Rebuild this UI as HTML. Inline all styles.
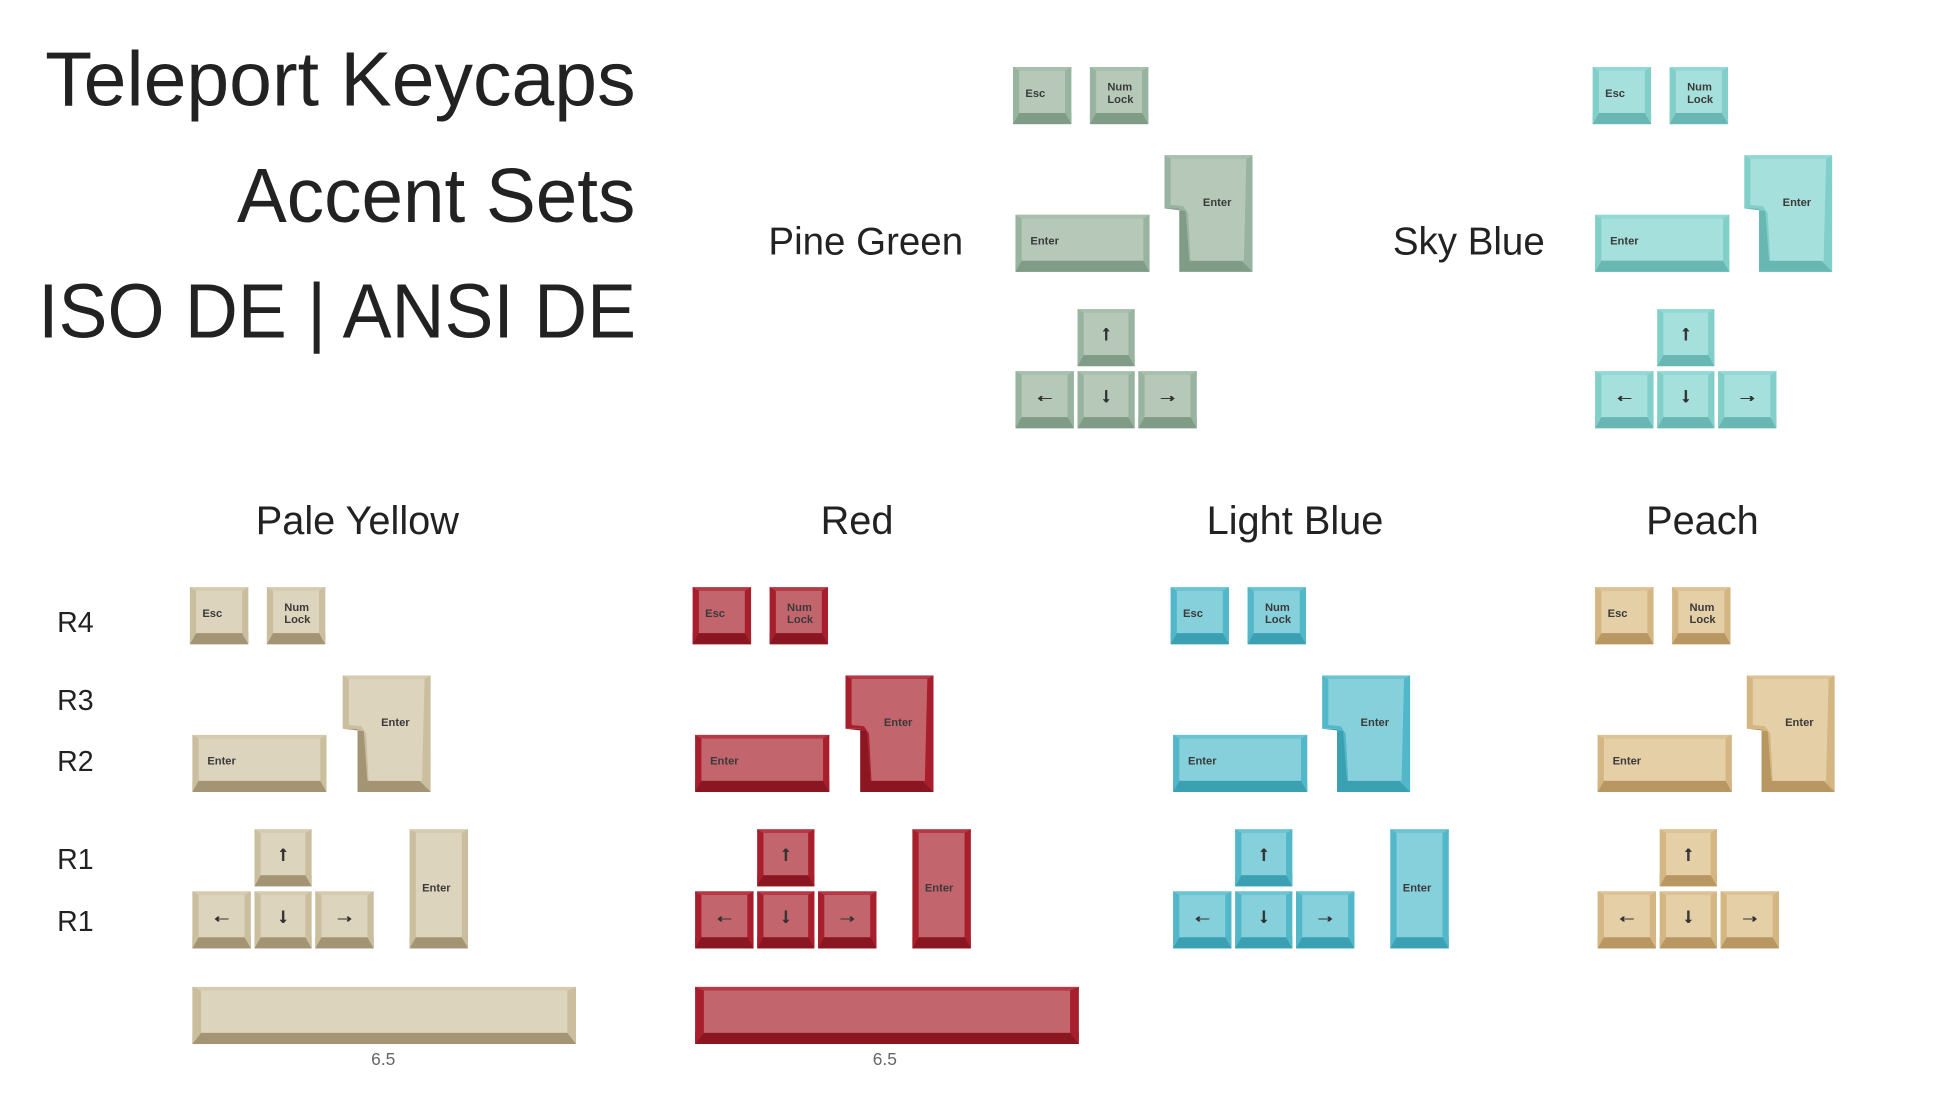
<!DOCTYPE html>
<html><head><meta charset="utf-8"><style>
html,body{margin:0;padding:0;background:#fff;width:1946px;height:1095px;overflow:hidden}
#w{position:absolute;left:0;top:0;width:1560px;height:878px;transform:scale(1.2414,1.2414);transform-origin:0 0;font-family:"Liberation Sans",sans-serif}
.t{position:absolute;color:#222;white-space:nowrap;font-weight:300}
.set{position:absolute}
.k{position:absolute;box-sizing:border-box;border-style:solid;border-width:3px 5px 9px 5px;border-color:var(--s2) var(--s) var(--b) var(--s);background:var(--t);font-weight:bold;font-size:9px;color:#3a3a3a;line-height:10px}
.k span{position:absolute}
.a{font-size:17px;text-align:center;width:100%;top:8px;left:0;line-height:18px;font-weight:bold;text-shadow:0.6px 0 0 #333,-0.6px 0 0 #333;color:#333}
.iso{position:absolute}
.py{--t:#ddd4be;--s:#cbbe9f;--s2:#d6cbb1;--b:#a39574}
.rd{--t:#c3656d;--s:#a81e2c;--s2:#b53a46;--b:#8a1621}
.lb{--t:#86d0dc;--s:#52b7c9;--s2:#6cc3d2;--b:#3ca0b3}
.pc{--t:#e4cfa7;--s:#d4b683;--s2:#dcc295;--b:#b89762}
.pg{--t:#b6c9b9;--s:#98b39f;--s2:#a7bfac;--b:#809c87}
.sb{--t:#a6e0dc;--s:#82cfca;--s2:#93d8d3;--b:#68b7b2}
</style></head><body><div id="w">
<div class="t" style="right:1048px;top:29px;font-size:62px">Teleport Keycaps</div>
<div class="t" style="right:1048px;top:123px;font-size:62px;transform:scaleX(0.97);transform-origin:right">Accent Sets</div>
<div class="t" style="right:1048px;top:216px;font-size:62px;transform:scaleX(0.953);transform-origin:right">ISO DE | ANSI DE</div>
<div class="t" style="left:619px;top:177px;font-size:31px">Pine Green</div>
<div class="t" style="left:1122px;top:177px;font-size:31px">Sky Blue</div>
<div class="t" style="left:206px;top:401px;font-size:32px">Pale Yellow</div>
<div class="t" style="left:661px;top:401px;font-size:32px">Red</div>
<div class="t" style="left:972px;top:401px;font-size:32px">Light Blue</div>
<div class="t" style="left:1326px;top:401px;font-size:32px">Peach</div>
<div class="t" style="left:46px;top:488px;font-size:23px">R4</div>
<div class="t" style="left:46px;top:551px;font-size:23px">R3</div>
<div class="t" style="left:46px;top:600px;font-size:23px">R2</div>
<div class="t" style="left:46px;top:679px;font-size:23px">R1</div>
<div class="t" style="left:46px;top:729px;font-size:23px">R1</div>
<div class="t" style="left:299px;top:845px;font-size:14px;color:#666">6.5</div>
<div class="t" style="left:703px;top:845px;font-size:14px;color:#666">6.5</div>

<div class="set py" style="left:153px;top:473px">
<div class="k" style="left:0;top:0;width:47px;height:46px"><span style="left:5px;top:13px">Esc</span></div>
<div class="k" style="left:62px;top:0;width:47px;height:46px"><span style="left:9px;top:8px">Num<br>Lock</span></div>
<svg class="iso" style="left:123px;top:71px" width="71" height="94"><polygon points="0,0 71,0 71,94 12,94 12,43 0,43" fill="var(--s)"/><polygon points="0,43 12,43 12,94 71,94 62,85 20,85 17,45" fill="var(--b)"/><polygon points="0,0 71,0 66,3 5,3" fill="var(--s2)"/><polygon points="5,3 66,3 64,85 21,85 19,47 15,41 5,40" fill="var(--t)"/><text x="31" y="41" font-family="Liberation Sans" font-weight="bold" font-size="9" fill="#3a3a3a">Enter</text></svg>
<div class="k" style="left:2px;top:119px;width:108px;height:46px"><span style="left:7px;top:13px">Enter</span></div>
<div class="k" style="left:52px;top:195px;width:46px;height:46px"><span class="a">↑</span></div>
<div class="k" style="left:2px;top:245px;width:47px;height:46px"><span class="a">←</span></div>
<div class="k" style="left:52px;top:245px;width:46px;height:46px"><span class="a">↓</span></div>
<div class="k" style="left:101px;top:245px;width:47px;height:46px"><span class="a">→</span></div>
<div class="k" style="left:177px;top:195px;width:47px;height:96px"><span style="left:5px;top:39px">Enter</span></div>
<div class="k" style="left:2px;top:322px;width:309px;height:46px;border-width:3px 7px 9px 7px"></div>
</div>

<div class="set rd" style="left:558px;top:473px">
<div class="k" style="left:0;top:0;width:47px;height:46px"><span style="left:5px;top:13px">Esc</span></div>
<div class="k" style="left:62px;top:0;width:47px;height:46px"><span style="left:9px;top:8px">Num<br>Lock</span></div>
<svg class="iso" style="left:123px;top:71px" width="71" height="94"><polygon points="0,0 71,0 71,94 12,94 12,43 0,43" fill="var(--s)"/><polygon points="0,43 12,43 12,94 71,94 62,85 20,85 17,45" fill="var(--b)"/><polygon points="0,0 71,0 66,3 5,3" fill="var(--s2)"/><polygon points="5,3 66,3 64,85 21,85 19,47 15,41 5,40" fill="var(--t)"/><text x="31" y="41" font-family="Liberation Sans" font-weight="bold" font-size="9" fill="#3a3a3a">Enter</text></svg>
<div class="k" style="left:2px;top:119px;width:108px;height:46px"><span style="left:7px;top:13px">Enter</span></div>
<div class="k" style="left:52px;top:195px;width:46px;height:46px"><span class="a">↑</span></div>
<div class="k" style="left:2px;top:245px;width:47px;height:46px"><span class="a">←</span></div>
<div class="k" style="left:52px;top:245px;width:46px;height:46px"><span class="a">↓</span></div>
<div class="k" style="left:101px;top:245px;width:47px;height:46px"><span class="a">→</span></div>
<div class="k" style="left:177px;top:195px;width:47px;height:96px"><span style="left:5px;top:39px">Enter</span></div>
<div class="k" style="left:2px;top:322px;width:309px;height:46px;border-width:3px 7px 9px 7px"></div>
</div>

<div class="set lb" style="left:943px;top:473px">
<div class="k" style="left:0;top:0;width:47px;height:46px"><span style="left:5px;top:13px">Esc</span></div>
<div class="k" style="left:62px;top:0;width:47px;height:46px"><span style="left:9px;top:8px">Num<br>Lock</span></div>
<svg class="iso" style="left:122px;top:71px" width="71" height="94"><polygon points="0,0 71,0 71,94 12,94 12,43 0,43" fill="var(--s)"/><polygon points="0,43 12,43 12,94 71,94 62,85 20,85 17,45" fill="var(--b)"/><polygon points="0,0 71,0 66,3 5,3" fill="var(--s2)"/><polygon points="5,3 66,3 64,85 21,85 19,47 15,41 5,40" fill="var(--t)"/><text x="31" y="41" font-family="Liberation Sans" font-weight="bold" font-size="9" fill="#3a3a3a">Enter</text></svg>
<div class="k" style="left:2px;top:119px;width:108px;height:46px"><span style="left:7px;top:13px">Enter</span></div>
<div class="k" style="left:52px;top:195px;width:46px;height:46px"><span class="a">↑</span></div>
<div class="k" style="left:2px;top:245px;width:47px;height:46px"><span class="a">←</span></div>
<div class="k" style="left:52px;top:245px;width:46px;height:46px"><span class="a">↓</span></div>
<div class="k" style="left:101px;top:245px;width:47px;height:46px"><span class="a">→</span></div>
<div class="k" style="left:177px;top:195px;width:47px;height:96px"><span style="left:5px;top:39px">Enter</span></div>
</div>

<div class="set pc" style="left:1285px;top:473px">
<div class="k" style="left:0;top:0;width:47px;height:46px"><span style="left:5px;top:13px">Esc</span></div>
<div class="k" style="left:62px;top:0;width:47px;height:46px"><span style="left:9px;top:8px">Num<br>Lock</span></div>
<svg class="iso" style="left:122px;top:71px" width="71" height="94"><polygon points="0,0 71,0 71,94 12,94 12,43 0,43" fill="var(--s)"/><polygon points="0,43 12,43 12,94 71,94 62,85 20,85 17,45" fill="var(--b)"/><polygon points="0,0 71,0 66,3 5,3" fill="var(--s2)"/><polygon points="5,3 66,3 64,85 21,85 19,47 15,41 5,40" fill="var(--t)"/><text x="31" y="41" font-family="Liberation Sans" font-weight="bold" font-size="9" fill="#3a3a3a">Enter</text></svg>
<div class="k" style="left:2px;top:119px;width:108px;height:46px"><span style="left:7px;top:13px">Enter</span></div>
<div class="k" style="left:52px;top:195px;width:46px;height:46px"><span class="a">↑</span></div>
<div class="k" style="left:2px;top:245px;width:47px;height:46px"><span class="a">←</span></div>
<div class="k" style="left:52px;top:245px;width:46px;height:46px"><span class="a">↓</span></div>
<div class="k" style="left:101px;top:245px;width:47px;height:46px"><span class="a">→</span></div>
</div>

<div class="set pg" style="left:816px;top:54px">
<div class="k" style="left:0;top:0;width:47px;height:46px"><span style="left:5px;top:13px">Esc</span></div>
<div class="k" style="left:62px;top:0;width:47px;height:46px"><span style="left:9px;top:8px">Num<br>Lock</span></div>
<svg class="iso" style="left:122px;top:71px" width="71" height="94"><polygon points="0,0 71,0 71,94 12,94 12,43 0,43" fill="var(--s)"/><polygon points="0,43 12,43 12,94 71,94 62,85 20,85 17,45" fill="var(--b)"/><polygon points="0,0 71,0 66,3 5,3" fill="var(--s2)"/><polygon points="5,3 66,3 64,85 21,85 19,47 15,41 5,40" fill="var(--t)"/><text x="31" y="41" font-family="Liberation Sans" font-weight="bold" font-size="9" fill="#3a3a3a">Enter</text></svg>
<div class="k" style="left:2px;top:119px;width:108px;height:46px"><span style="left:7px;top:13px">Enter</span></div>
<div class="k" style="left:52px;top:195px;width:46px;height:46px"><span class="a">↑</span></div>
<div class="k" style="left:2px;top:245px;width:47px;height:46px"><span class="a">←</span></div>
<div class="k" style="left:52px;top:245px;width:46px;height:46px"><span class="a">↓</span></div>
<div class="k" style="left:101px;top:245px;width:47px;height:46px"><span class="a">→</span></div>
</div>

<div class="set sb" style="left:1283px;top:54px">
<div class="k" style="left:0;top:0;width:47px;height:46px"><span style="left:5px;top:13px">Esc</span></div>
<div class="k" style="left:62px;top:0;width:47px;height:46px"><span style="left:9px;top:8px">Num<br>Lock</span></div>
<svg class="iso" style="left:122px;top:71px" width="71" height="94"><polygon points="0,0 71,0 71,94 12,94 12,43 0,43" fill="var(--s)"/><polygon points="0,43 12,43 12,94 71,94 62,85 20,85 17,45" fill="var(--b)"/><polygon points="0,0 71,0 66,3 5,3" fill="var(--s2)"/><polygon points="5,3 66,3 64,85 21,85 19,47 15,41 5,40" fill="var(--t)"/><text x="31" y="41" font-family="Liberation Sans" font-weight="bold" font-size="9" fill="#3a3a3a">Enter</text></svg>
<div class="k" style="left:2px;top:119px;width:108px;height:46px"><span style="left:7px;top:13px">Enter</span></div>
<div class="k" style="left:52px;top:195px;width:46px;height:46px"><span class="a">↑</span></div>
<div class="k" style="left:2px;top:245px;width:47px;height:46px"><span class="a">←</span></div>
<div class="k" style="left:52px;top:245px;width:46px;height:46px"><span class="a">↓</span></div>
<div class="k" style="left:101px;top:245px;width:47px;height:46px"><span class="a">→</span></div>
</div>
</div></body></html>
